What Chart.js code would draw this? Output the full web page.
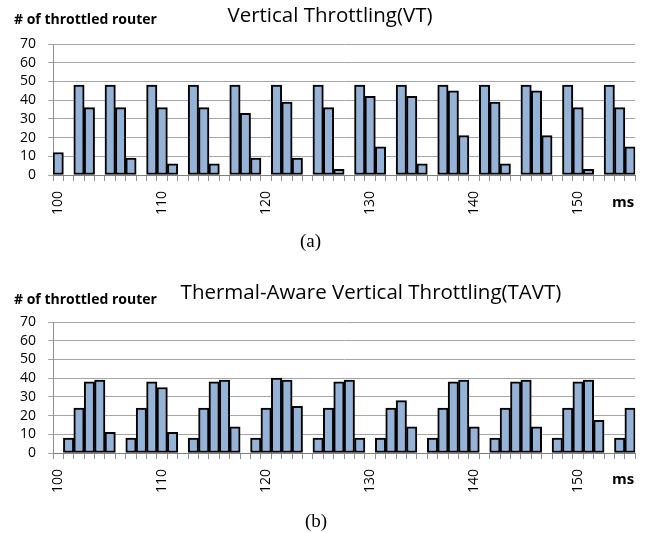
<!DOCTYPE html>
<html>
<head>
<meta charset="utf-8">
<script src="https://cdn.jsdelivr.net/npm/chart.js@4.4.1/dist/chart.umd.min.js"></script>
<style>
  body { margin: 0; background: #fff; }
  #wrap { position: relative; width: 657px; height: 533px; overflow: hidden; font-family: "Open Sans", sans-serif; }
  .box { position: absolute; left: 0; width: 657px; height: 250px; }
  .txt { position: absolute; white-space: nowrap; color: #000; line-height: 1; transform: translateY(-50%); }
  .title { font-size: 20.5px; transform: translate(-50%, -50%); }
  .ylab { font-size: 14px; font-weight: bold; }
  .ms { font-size: 15px; font-weight: bold; }
  .cap { font-family: "Liberation Serif", serif; font-size: 19px; }
</style>
</head>
<body>
<div id="wrap">
  <div class="box" style="top:0"><canvas id="vtChart" width="657" height="250"></canvas></div>
  <div class="box" style="top:278px"><canvas id="tavtChart" width="657" height="250"></canvas></div>

  <div class="txt title" style="left:330px; top:14px">Vertical Throttling(VT)</div>
  <div class="txt ylab" style="left:14px; top:19px"># of throttled router</div>
  <div class="txt ms" style="left:612px; top:201px">ms</div>
  <div class="txt cap" style="left:300px; top:240px">(a)</div>

  <div class="txt title" style="left:371px; top:291px">Thermal-Aware Vertical Throttling(TAVT)</div>
  <div class="txt ylab" style="left:14px; top:299px"># of throttled router</div>
  <div class="txt ms" style="left:612px; top:478px">ms</div>
  <div class="txt cap" style="left:305px; top:520px">(b)</div>
</div>

<script>
// time in ms (one bar per ms)
const msLabels = [
  '100','101','102','103','104','105','106','107','108','109',
  '110','111','112','113','114','115','116','117','118','119',
  '120','121','122','123','124','125','126','127','128','129',
  '130','131','132','133','134','135','136','137','138','139',
  '140','141','142','143','144','145','146','147','148','149',
  '150','151','152','153','154','155'
];
const tickShown = ['100', '110', '120', '130', '140', '150'];

// # of throttled routers, VT
const vtCounts = [
  12, null,
  48, 36, null,
  48, 36, 9, null,
  48, 36, 6, null,
  48, 36, 6, null,
  48, 33, 9, null,
  48, 39, 9, null,
  48, 36, 3, null,
  48, 42, 15, null,
  48, 42, 6, null,
  48, 45, 21, null,
  48, 39, 6, null,
  48, 45, 21, null,
  48, 36, 3, null,
  48, 36, 15
];

// # of throttled routers, TAVT
const tavtCounts = [
  null,
  8, 24, 38, 39, 11, null,
  8, 24, 38, 35, 11, null,
  8, 24, 38, 39, 14, null,
  8, 24, 40, 39, 25, null,
  8, 24, 38, 39, 8, null,
  8, 24, 28, 14, null,
  8, 24, 38, 39, 14, null,
  8, 24, 38, 39, 14, null,
  8, 24, 38, 39, 17.5, null,
  8, 24
];

const yMin = 0, yMax = 70, yStep = 10;

function makeChart(id, values) {
  const ctx = document.getElementById(id);
  return new Chart(ctx, {
    type: 'bar',
    data: {
      labels: msLabels,
      datasets: [{
        data: values,
        backgroundColor: '#95b3d7',
        borderColor: '#000',
        borderWidth: 2,
        borderSkipped: false,
        barPercentage: 1,
        categoryPercentage: 1
      }]
    },
    options: {
      responsive: false,
      animation: false,
      devicePixelRatio: 1,
      layout: { padding: { top: 44, left: 0, right: 15, bottom: 0 } },
      plugins: { legend: { display: false }, tooltip: { enabled: false } },
      scales: {
        x: {
          grid: { offset: true, drawOnChartArea: false, drawTicks: true, tickLength: 6, color: '#8f8f8f' },
          border: { display: true, color: '#7f7f7f' },
          ticks: {
            autoSkip: false,
            minRotation: 90,
            maxRotation: 90,
            padding: 10,
            color: '#000',
            font: { family: 'Open Sans', size: 14 },
            callback: function (v, i) {
              const l = msLabels[i];
              return tickShown.includes(l) ? l : '';
            }
          },
          afterFit: function (s) { s.height = 75; }
        },
        y: {
          min: yMin,
          max: yMax,
          grid: { color: '#a6a6a6', tickLength: 5 },
          border: { color: '#8f8f8f' },
          ticks: {
            stepSize: yStep,
            autoSkip: false,
            padding: 12,
            color: '#000',
            font: { family: 'Open Sans', size: 14 }
          },
          afterFit: function (s) { s.width = 53; }
        }
      }
    }
  });
}

makeChart('vtChart', vtCounts);
makeChart('tavtChart', tavtCounts);
</script>
</body>
</html>
